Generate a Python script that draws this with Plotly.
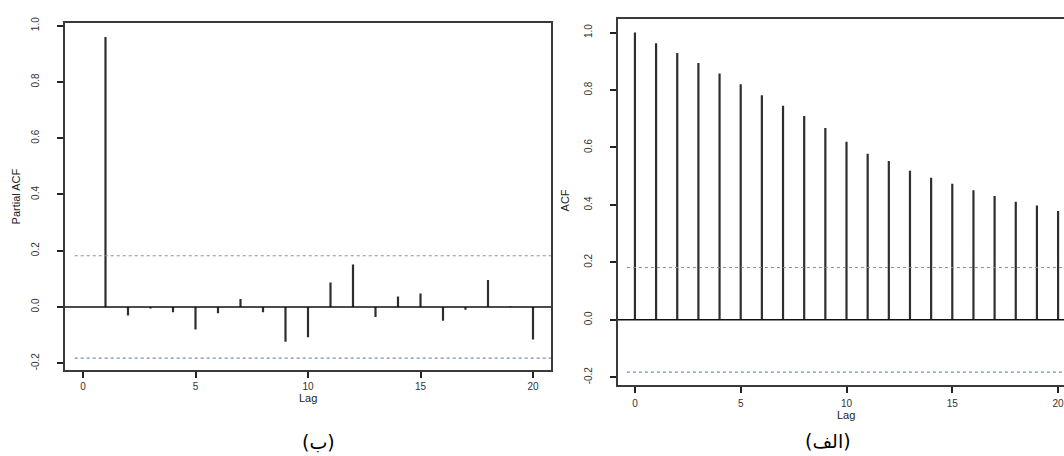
import plotly.graph_objects as go

# ---------------- data ----------------
pacf_lags = list(range(1, 21))
pacf_vals = [0.96, -0.03, -0.005, -0.019, -0.08, -0.022, 0.028, -0.019, -0.124, -0.108,
             0.087, 0.151, -0.036, 0.037, 0.048, -0.049, -0.01, 0.096, 0.003, -0.116]
acf_lags = list(range(0, 21))
acf_vals = [1.0, 0.963, 0.929, 0.894, 0.858, 0.820, 0.782, 0.745, 0.710, 0.668, 0.620,
            0.578, 0.553, 0.519, 0.495, 0.474, 0.451, 0.431, 0.411, 0.398, 0.379]
conf_limit = 0.182
x_ticks = [0, 5, 10, 15, 20]
y_ticks = [-0.2, 0.0, 0.2, 0.4, 0.6, 0.8, 1.0]
y_tick_labels = ["-0.2", "0.0", "0.2", "0.4", "0.6", "0.8", "1.0"]
left_ylabel = "Partial ACF"
right_ylabel = "ACF"
xlabel = "Lag"
left_caption = "(ب)"
right_caption = "(الف)"

W, H = 1064, 456
FONT = "Liberation Sans Narrow, Liberation Sans, Arial, sans-serif"
BAR = "#2e2e2e"
CONF = "#6f93c4"


def spikes(lags, vals):
    xs, ys = [], []
    for l, v in zip(lags, vals):
        xs += [l, l, None]
        ys += [0, v, None]
    return xs, ys


fig = go.Figure()

# left panel (PACF)
xs, ys = spikes(pacf_lags, pacf_vals)
fig.add_trace(go.Scatter(x=xs, y=ys, mode="lines", line=dict(color=BAR, width=2.2),
                         xaxis="x", yaxis="y", showlegend=False, hoverinfo="skip"))
# right panel (ACF)
xs, ys = spikes(acf_lags, acf_vals)
fig.add_trace(go.Scatter(x=xs, y=ys, mode="lines", line=dict(color=BAR, width=2.2),
                         xaxis="x2", yaxis="y2", showlegend=False, hoverinfo="skip"))

shapes = []
for xr, yr in (("x", "y"), ("x2", "y2")):
    shapes.append(dict(type="line", xref=xr + " domain", yref=yr, x0=0, x1=1, y0=0, y1=0,
                       line=dict(color="#111", width=1.6)))
    for c in (conf_limit, -conf_limit):
        shapes.append(dict(type="line", xref=xr + " domain", yref=yr, x0=0.02, x1=1, y0=c, y1=c,
                           line=dict(color=CONF, width=1.1, dash="dot")))

axis_common = dict(showgrid=False, zeroline=False, showline=True, linecolor="#3a3a3a",
                   linewidth=2, ticks="outside", ticklen=6, tickwidth=1.6, tickcolor="#222",
                   tickfont=dict(family=FONT, size=10, color="#333"))

fig.update_layout(
    width=W, height=H, margin=dict(l=0, r=0, t=0, b=0),
    paper_bgcolor="white", plot_bgcolor="white",
    xaxis=dict(domain=[65 / W, 551 / W], range=[-0.8, 20.8], tickvals=x_ticks,
               mirror=True, anchor="y", ticklabelstandoff=0, **axis_common),
    yaxis=dict(domain=[1 - 369 / H, 1 - 17 / H], range=[-0.2246, 1.0105], tickvals=y_ticks,
               ticktext=y_tick_labels, tickangle=-90, mirror=True, anchor="x",
               ticklabelstandoff=14, **axis_common),
    xaxis2=dict(domain=[618 / W, 1.0], range=[-0.8, 20.28], tickvals=x_ticks,
                mirror=True, anchor="y2", ticklabelstandoff=2, ticklabeloverflow="allow",
                **axis_common),
    yaxis2=dict(domain=[1 - 384 / H, 1 - 13 / H], range=[-0.2268, 1.048], tickvals=y_ticks,
                ticktext=y_tick_labels, tickangle=-90, mirror=False, anchor="x2",
                ticklabelstandoff=14, **axis_common),
    shapes=shapes,
)


def px_annot(text, x, y, size, angle=0, family=FONT, color="#222"):
    fig.add_annotation(text=text, x=x / W, y=1 - y / H, xref="paper", yref="paper",
                       showarrow=False, textangle=angle, xanchor="center", yanchor="middle",
                       font=dict(family=family, size=size, color=color))


px_annot(left_ylabel, 16, 193, 11, angle=-90)
px_annot(right_ylabel, 565, 197, 11, angle=-90)
px_annot(xlabel, 308, 397, 11)
px_annot(xlabel, 846, 414, 11)
px_annot(left_caption, 318, 442, 19, family="DejaVu Sans", color="#000")
px_annot(right_caption, 828, 441, 19, family="DejaVu Sans", color="#000")

fig.write_html("out.html")
